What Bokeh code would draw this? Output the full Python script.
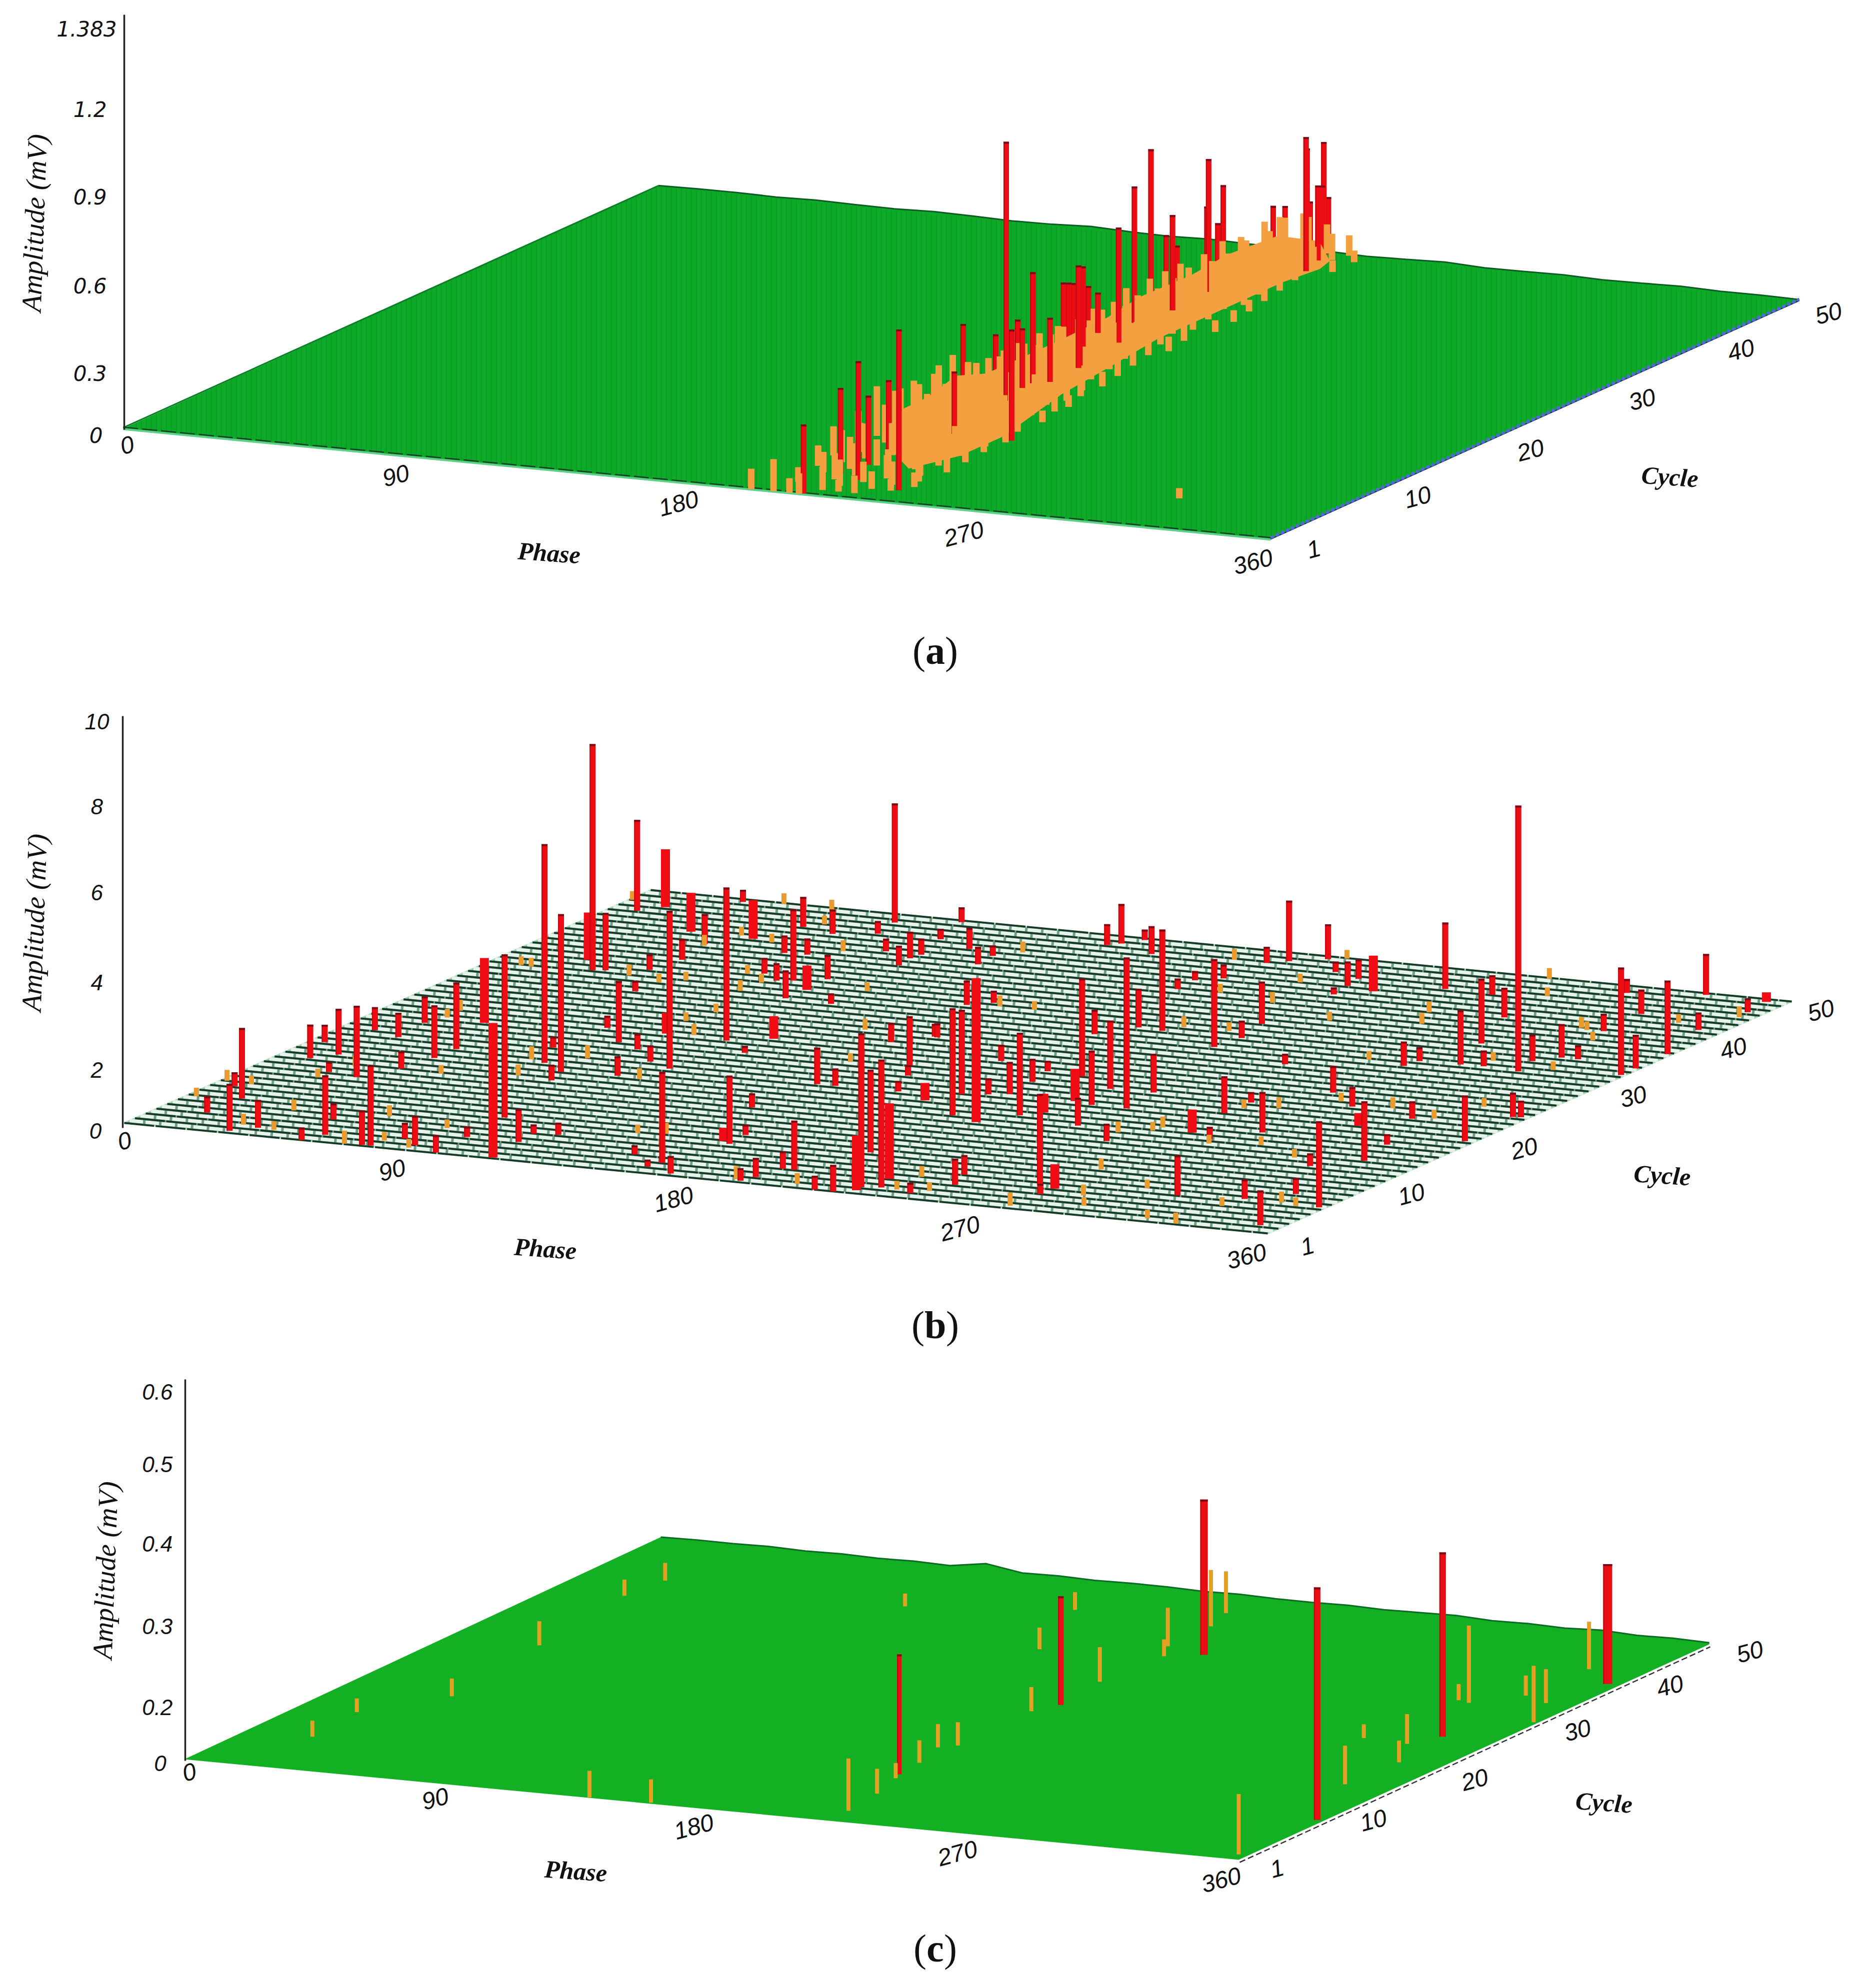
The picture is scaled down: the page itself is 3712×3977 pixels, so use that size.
import numpy as np
from bokeh.plotting import figure
from bokeh.models import Range1d, ColumnDataSource
from bokeh.core.properties import value
from bokeh.embed import file_html
from bokeh.resources import INLINE

# ---------------- panel (a) values
a_red_phase=[213.1,211.1,219.4,213.4,212.6,235.9,217.9,212.5,212.5,212.4,236.6,212.6,216.8,209.2,212.9,212.7,212.6,212.4,212.3,212,212,209.9,208.2,200.9,212.6,212.6,208.8,212.6,211.8,202.4,211.8,211.8,212.5,212.5,215.7,212.6,212.4,212.6,212.9,212.6,211.8]
a_red_cycle=[1.1,5.1,4.3,7,9.1,3.2,13.6,16,19,20,13.4,21,20.2,23.4,23.9,25.2,25.7,26.2,26.7,27.2,27.7,29.2,31.6,35.2,33.3,34.7,36.4,35.7,38.7,41.6,40.2,39.7,44.6,45.7,46.7,47.7,49.3,48.7,47.9,49.1,49.9]
a_red_amp=[.237,.293,.407,.237,.254,.552,.214,.331,.245,.889,.381,.262,.25,.381,.22,.319,.31,.3,.352,.34,.264,.214,.395,.468,.64,.322,.358,.269,.352,.456,.4,.278,.256,.237,.46,.401,.396,.257,.216,.25,.196]
a_red_behind=[0,0,0,0,0,0,0,1,1,0,0,1,0,0,0,1,1,1,0,0,1,0,0,0,1,1,0,1,1,0,1,1,1,1,0,1,1,0,1,1,1]
a_or_cycle=[1,1,1,1,2,2,2,3,3,3,3,4,4,4,4,5,5,5,5,6,6,6,6,7,7,7,7,8,8,8,8,9,9,9,9,10,10,10,10,11,11,11,11,12,12,12,12,13,13,13,13,14,14,14,14,15,15,15,15,16,16,16,16,17,17,17,17,18,18,18,18,19,19,19,19,20,20,20,20,21,21,21,21,22,22,22,22,23,23,23,24,24,24,24,25,25,25,26,26,26,26,27,27,27,28,28,28,29,29,29,30,30,30,31,31,31,32,32,32,33,33,33,34,34,35,35,35,35,36,36,37,37,37,38,38,39,39,39,40,40,40,41,41,41,42,42,43,43,43,44,44,45,45,45,46,46,47,47,47,48,48,49,49,49,50,50,6.4]
a_or_phase=[197,204,209,212,216,221,226,205,218,228,234,213,222,231,238,206,216,226,236,201,211,223,233,205,216,228,238,199,209,220,232,204,214,225,237,200,210,220,232,205,216,227,236,199,210,221,233,203,214,226,236,198,208,219,230,202,213,224,233,197,207,218,229,200,211,222,234,198,205,216,227,199,210,221,231,203,214,225,232,197,207,218,228,200,211,222,229,203,214,226,198,208,219,229,201,212,222,196,206,217,227,199,210,221,203,214,225,198,208,219,201,212,223,205,216,226,199,209,220,202,213,224,206,217,199,209,220,227,203,214,207,218,226,201,211,205,216,224,199,209,219,203,213,222,207,217,202,212,220,206,215,201,210,218,205,214,208,217,223,203,212,207,216,223,211,218,313]
a_or_amp=[.07,.11,.05,.07,.08,.04,.06,.05,.09,.06,.04,.09,.07,.08,.05,.07,.11,.08,.06,.07,.11,.08,.08,.11,.09,.1,.05,.1,.12,.08,.09,.1,.11,.08,.06,.12,.09,.1,.08,.13,.09,.08,.05,.17,.1,.09,.07,.15,.1,.08,.06,.12,.12,.08,.06,.13,.09,.08,.05,.12,.12,.09,.07,.13,.1,.08,.04,.14,.11,.08,.07,.16,.1,.07,.05,.12,.1,.06,.04,.1,.13,.08,.05,.1,.1,.07,.05,.11,.1,.06,.09,.12,.09,.05,.1,.11,.07,.08,.12,.09,.06,.1,.1,.08,.11,.1,.06,.09,.12,.08,.1,.1,.07,.12,.09,.05,.1,.12,.07,.11,.11,.06,.12,.08,.12,.13,.07,.04,.14,.1,.13,.07,.04,.13,.12,.13,.09,.04,.12,.14,.07,.14,.1,.05,.13,.07,.15,.12,.06,.14,.08,.13,.16,.07,.17,.11,.17,.08,.04,.15,.16,.15,.09,.04,.1,.07,.035]
a_band_top_cycle=[9,11,13,16.5,19,21.8,25,28.4,31.6,33,36,40.7,44,47.5,49]
a_band_top_phase=[214,207,202,200,200,200,200,200,200,200,200,200,200,204,212]
a_band_top_amp=[.015,.03,.07,.06,.09,.05,.05,.05,.055,.055,.075,.07,.085,.095,.06]
a_band_low_cycle=[7,10,14,22,27,33,41,44.5,47.3,48.8]
a_band_low_phase=[226,232,232,223,220,216,216,216,218,216]
a_back_amp=[.004,.006,.005,.009,.006,.004,.008,.006,.005,.011,.007,.004,.008,.005,.006,.009,.005,.007,.012,.006,.004,.007,.009,.005,.006,.008,.005,.007,.006,.004]

# ---------------- panel (b) values
b_red_phase=[16.1,31.8,15.3,37.4,7,55.8,10.2,4.6,58.9,52,23.2,15.4,33.3,10.6,76.9,74.2,20.7,39.9,81.6,88.2,19.2,42.2,97.8,42.7,96.8,95.1,113,112,73.5,85.5,119.1,83.1,66.8,31.8,35.2,69.3,80.7,99.9,8.6,55.1,89.6,100.1,46.4,162.3,109.2,170.7,150.2,160.7,48.9,45.5,107.5,168.6,167.6,119.4,30.8,78.2,153.1,85.4,98.1,89.7,71.3,61,78.2,97.8,72.6,113.1,156.4,162.1,200.5,196.9,193,194.8,217.4,223.2,228,210,233.3,222.2,244.1,82.1,84.2,96.6,108.1,106.9,107.7,103.7,151,169.3,174.9,160.1,181.6,99.1,102.9,116.8,128,126.9,150.1,152.9,166.8,214.5,156.9,250.5,206.3,220.3,198.9,234.9,239.5,248,148.8,209.5,199.6,159,206.6,190.4,154.6,227,212,210.7,208.4,272.8,278.3,250.8,247.3,264.4,248.2,237.3,199.7,236.1,239.2,193.4,194,278.6,290.2,299.7,279.3,314.4,353.3,333.9,344.3,331.6,358,342.6,339,294.7,307.8,330.4,357.1,355.4,357.6,265.7,297.4,298.6,311.2,304.3,318.2,278.7,295,330.1,327.8,333.3,338.5,328.7,358.8,358.7,312.4,328.4,358.6,352.5,334,354.9,201.8,206.5,215.4,224.9,236.1,234.8,237.5,263.2]
b_red_cycle=[7.2,1.4,4.2,2.4,9.2,1,15.3,18.3,2.3,5.1,13.2,16.4,12.8,21.2,1.2,1.2,20.4,15,3,2,23.3,17.4,1.1,19.3,4.3,8.3,4.3,6,18.4,15.5,6.2,17.1,21.2,35.2,35.4,25.5,23.2,17.4,46.2,32.3,22.3,20.4,36.2,3.1,19.5,1.4,4.1,2.2,38.5,41.6,25.3,7.5,9.3,23.5,49.5,37.5,14.2,36.5,33.6,36.8,41.4,46.2,41.5,37.6,45.5,33.4,19.3,19.3,4.1,4.1,1.3,2.2,1,1,2.2,8.4,2.5,3.3,2,48.5,46.3,43.4,41.2,42.6,43.4,46.4,27.8,24.1,22.3,29.4,19.4,49.7,46.6,45.2,42.7,44.4,48.2,48.7,47.4,34.3,49.7,20.3,34.5,25.1,32.6,23.4,20.3,16.5,35.5,16.2,20,29.5,20.4,26.4,36.3,17.3,20.8,23.3,25.4,5.6,4,4.2,6.1,14.3,23.5,32.4,44.4,37.2,34.4,43.6,41.8,21.1,16.3,18.4,23.4,6.1,2.3,6.6,8.3,13.4,6.4,15.2,18.4,26.5,24.4,23.3,20.3,25.3,25.4,30.6,32.3,33.4,33.5,37.5,33.6,46.1,42.4,33.3,35.3,36.4,36.4,41.7,34.4,35.8,48.7,45.3,38.8,43.5,49.7,47.4,47.8,48.5,49.5,47.4,45.2,46.6,43.5,46.3]
b_red_amp=[1.62,1.08,.37,.64,.32,.29,.77,.4,1.37,.37,.24,1.05,1.64,.53,1.85,.79,.56,.4,.36,.68,.61,1.21,.4,1.53,.24,3.75,.76,.21,5.03,.36,.28,3.63,.25,5.2,1.32,.28,1.41,.45,2.09,.24,.36,.37,.36,2.09,3.63,.4,.21,.16,.48,.69,3.52,1.57,.24,.16,.28,.36,.32,.4,.64,1.64,.4,.69,.37,.56,.56,.24,.84,.4,1.13,.4,.29,.44,.32,.61,3.54,1.9,2.94,.36,.24,2.74,.29,.29,.45,.61,.37,.24,.44,1.13,.24,.32,.24,.34,.2,.49,.4,.24,.48,.91,.64,2.33,.24,3.47,.89,2.25,.56,1.57,1.25,.64,.56,2.46,1.94,.29,.37,.37,.28,1.9,.74,.53,.24,2.09,.24,.6,.45,.4,.89,2.02,.32,.97,.4,.21,.24,.85,.29,.93,.24,.92,.8,.45,.37,.29,1.98,1.37,.24,.61,.45,.4,1.05,.56,.38,.24,.56,.32,1.25,1.49,.36,.45,.68,6.11,.61,.77,.32,.4,2.47,.77,.32,.56,1.69,.4,.94,.32,.37,1.39,.8,.24,.56,.45,.16,1.53]
b_wide_phase=[34.6,115.4,24.7,87.9,13.8,34.7,165.4,55,118.7,98.7,228.5,230.4,193.7,232.9,219.6,231.5,278.8,281.6,320.6,245.9,353.7]
b_wide_cycle=[24.3,1.2,36.9,25.5,47.3,43.5,7.9,43.3,26.4,35.4,1.6,4.1,18.3,20.7,15.4,18.2,5.2,17.2,21.2,44.7,49.5]
b_wide_amp=[1.49,3.09,1.09,.48,1.33,.89,.3,.89,.52,.56,1.26,1.74,.4,.74,3.31,.43,.56,.53,.29,.82,.22]
b_or_phase=[3.1,1.9,10.3,31.8,42.7,36.5,23.4,69,77.5,64.6,87.9,86.4,26.7,21.9,21.3,53.1,68.1,74,13.8,10.3,82,107.5,146.3,95.9,85.6,56.1,44.3,61.9,88.3,42.7,65,58.8,61.9,85.4,73.9,82.7,115,137,152,191,209.5,237.6,238.5,247.8,150,1,46.4,50,138.7,82.1,191.6,132.6,220,284.2,293.7,272.6,251.7,284.7,331.3,321,317.5,338.4,277.4,207.1,226.6,221.8,217.9,231.8,169.1,158.2,341.9,319.2,335.9,301.9,289.7,280.7,270.2,262.3,306.7,292.3,271,322.6,279.6,290.2,296.4,302.5,277.2,332.1,330.4,320.1,345.5,351.3,352.1,343.2,355.6,323.7]
b_or_cycle=[6.8,10,9.8,2.7,2.3,6,12.1,1.1,2.3,6.6,1.5,5.5,14.6,24.6,26,14.8,18.8,15.8,34.8,34.9,19.9,17.2,8.2,25.7,28,34.2,34.9,35,30,49.8,47,49.5,43,42.7,37.2,35.9,36.2,29.5,23.7,1.5,1.7,5,2.4,2.7,28,48,41.3,43.7,7.8,34.1,47.8,45.5,49.9,49.8,46.8,42,38.9,32.8,39.9,41.9,34.7,34.1,39.9,41.9,41,45,35.3,35.4,35.8,35.8,26.6,24.8,23.7,25.1,22.9,22.3,16.9,16,16.2,15.6,17.6,14.6,9.3,4.5,2.7,6.8,1.5,5,1.2,1.6,6.6,6.2,21.8,44.4,46.4,41.6]
b_or_amp=[.2,.25,.2,.25,.2,.25,.2,.3,.2,.25,.2,.2,.25,.2,.25,.2,.3,.25,.2,.2,.3,.25,.25,.25,.2,.2,.25,.2,.2,.25,.2,.25,.2,.25,.2,.2,.2,.25,.2,.3,.25,.25,.2,.2,.2,.2,.25,.2,.2,.25,.25,.25,.2,.25,.2,.25,.2,.2,.2,.25,.2,.2,.25,.2,.25,.2,.25,.2,.2,.25,.2,.25,.2,.2,.25,.2,.2,.25,.2,.2,.25,.2,.25,.25,.2,.2,.3,.2,.25,.2,.25,.2,.25,.2,.25,.2]

# ---------------- panel (c) values
c_red_phase=[224.3,357.6,341.7,355.8,214.6,211.5]
c_red_cycle=[38.6,9.9,27.8,40.7,26.7,10.9]
c_red_amp=[.193,.289,.229,.149,.135,.149]
c_or_phase=[208.8,205,110.5,160.5,174.5,208.9,213.9,211.4,210.1,210.4,205.9,210.1,212.9,217.1,219.5,356.7,343.5,345.2,336.1,320.3,328.3,323.8,358.4,339.9,350.1,341.5,22.5,20.1,37.3,31,24.9,27.2,138,158.7]
c_or_cycle=[44,46.7,42,44.5,36.6,39.5,37.6,31.7,25,17.3,16.6,13.4,10.1,6.9,3.2,2,17.1,22.2,25.8,26.1,34.6,34.9,32.2,37,36,43.1,7.4,12.7,17.3,28.2,38.8,42.3,1.1,1.2]
c_or_amp=[.07,.052,.016,.022,.027,.048,.021,.043,.03,.029,.029,.028,.019,.031,.065,.075,.048,.027,.037,.017,.096,.02,.07,.025,.042,.059,.02,.017,.022,.03,.02,.022,.033,.029]
c_back_amp=[.002,.003,.002,.004,.002,.003,.002,.004,.003,.002,.003,.002,.002,.003,.002,.003,.003,.002,.003,.002,.009,.002,.003,.002,.003,.002,.003,.002,.002,.001]

# ---------------- tick labels
phase_ticks=["0","90","180","270","360"]
cycle_ticks=["1","10","20","30","40","50"]
a_amp_ticks=["0","0.3","0.6","0.9","1.2","1.383"]
b_amp_ticks=["0","2","4","6","8","10"]
c_amp_ticks=["0","0.2","0.3","0.4","0.5","0.6"]

# ---------------- layout (reference pixels)
K=3712/1464
CORNERS={'a':[(246,857),(2541,1078),(3598,601),(1316,373)],
         'b':[(248,2246),(2535,2467),(3583,2003),(1301,1780)],
         'c':[(368,3519),(2477,3720),(3418,3289),(1321,3076)]}
ZSCALE={'a':583.,'b':87.,'c':1610.}

def proj(k,phase,cycle):
    A,B,C,D=[np.array(q,float) for q in CORNERS[k]]
    u=np.asarray(phase,float)/360; v=(np.asarray(cycle,float)-1)/49
    x=(1-u)*(1-v)*A[0]+u*(1-v)*B[0]+u*v*C[0]+(1-u)*v*D[0]
    y=(1-u)*(1-v)*A[1]+u*(1-v)*B[1]+u*v*C[1]+(1-u)*v*D[1]
    return x,y

p=figure(width=3696,height=3961,x_range=Range1d(0,3696),y_range=Range1d(3961,0),
         output_backend="svg",toolbar_location=None,x_axis_location=None,y_axis_location=None,
         min_border=0,background_fill_color="white",border_fill_color="white")
p.grid.visible=False
p.outline_line_color=None

def plane(k,color,back):
    x,y=proj(k,[0,360,360],[1,1,50])
    x=list(x);y=list(y)
    n=len(back)
    bx,by=proj(k,np.linspace(360,0,n),np.full(n,50.))
    by=by-np.array(back)*ZSCALE[k]
    x+=list(bx);y+=list(by)
    p.patch(x,y,fill_color=color,line_color=None)
    return bx,by

def bars(k,groups):
    X,W,B,T,C=[],[],[],[],[]
    items=[]
    for ph,cy,am,col,w,shade in groups:
        xs,ys=proj(k,ph,cy)
        for x0,y0,a,wd in zip(xs,ys,am,w if isinstance(w,list) else [w]*len(am)):
            items.append((y0,x0,a,col,wd,shade))
    items.sort(key=lambda t:t[0])
    for y0,x0,a,col,wd,shade in items:
        top=y0-a*ZSCALE[k]
        X.append(x0);W.append(wd);B.append(y0);T.append(top);C.append(col)
        if shade:
            X.append(x0-wd/2+1);W.append(2);B.append(y0);T.append(top);C.append(shade)
            X.append(x0);W.append(wd);B.append(top+4);T.append(top);C.append("#7a0a14")
    p.vbar(x=X,width=W,bottom=B,top=T,fill_color=C,line_color=None)

def pick(vals,flag,want):
    return [v for v,f in zip(vals,flag) if f==want]

# ---- panel a
bx,by=plane('a',"#0DAA27",a_back_amp)
A=CORNERS['a']
xs=np.arange(252,3596,10.)
low=np.interp(xs,[A[0][0],A[1][0],A[2][0]],[A[0][1],A[1][1],A[2][1]])
high=np.interp(xs,[A[0][0],A[3][0],A[2][0]],[A[0][1],A[3][1],A[2][1]])
p.multi_line([[x,x] for x in xs],[[l,h] for l,h in zip(low,high)],line_color="#078A22",line_width=1.6,line_alpha=.55)
p.line(bx,by,line_color="#0C5C24",line_width=3)
xl,yl=proj('a',[0,0],[1,50]); p.line(xl,yl-2,line_color="#0A7D25",line_width=3)
xf,yf=proj('a',[0,360],[1,1]); p.line(xf,yf+1,line_color="#5FD08A",line_width=4); p.line(xf,yf-3,line_color="#1B3B2A",line_width=2.5,line_dash="30 8")
xr,yr=proj('a',[360,360],[1,50]); p.line(xr,yr,line_color="#16227A",line_width=2); p.line(xr,yr-3,line_color="#5468D8",line_width=6,line_dash="7 4")
RED_A,SH_A="#EC0C14","#B80A12"
bars('a',[(pick(a_red_phase,a_red_behind,1),pick(a_red_cycle,a_red_behind,1),pick(a_red_amp,a_red_behind,1),RED_A,11,SH_A)])
tx,ty=proj('a',a_band_top_phase,a_band_top_cycle); ty=ty-np.array(a_band_top_amp)*ZSCALE['a']
lx,ly=proj('a',a_band_low_phase,a_band_low_cycle)
p.patch(list(tx)+list(lx)[::-1],list(ty)+list(ly)[::-1],fill_color="#F4A040",line_color=None)
bars('a',[(pick(a_red_phase,a_red_behind,0),pick(a_red_cycle,a_red_behind,0),pick(a_red_amp,a_red_behind,0),RED_A,11,SH_A),(a_or_phase,a_or_cycle,a_or_amp,"#F4A040",13,None)])

# ---- panel b
xp,yp=proj('b',[0,360,360,0],[1,1,50,50])
p.patch(xp,yp,fill_color="#6F9C84",line_color="#A6D6B6",line_width=3)
rows=np.arange(1,50)
x0,y0=proj('b',np.zeros(49),rows+.5); x1,y1=proj('b',np.full(49,360.),rows+.5)
p.multi_line([[a,b] for a,b in zip(x0,x1)],[[a,b] for a,b in zip(y0,y1)],line_color="#E6F2EC",line_width=7,line_dash="27 5")
rows=np.arange(1,51)
x0,y0=proj('b',np.zeros(50),rows); x1,y1=proj('b',np.full(50,360.),rows)
p.multi_line([[a,b] for a,b in zip(x0,x1)],[[a,b] for a,b in zip(y0,y1)],line_color="#173A27",line_width=3.8,line_dash="60 3")
bars('b',[(b_red_phase,b_red_cycle,b_red_amp,"#EE0C14",12,"#C00A12"),
          (b_wide_phase,b_wide_cycle,b_wide_amp,"#F00C14",18,None),
          (b_or_phase,b_or_cycle,b_or_amp,"#E99B30",10,None)])

# ---- panel c
bx,by=plane('c',"#12B022",c_back_amp)
p.line(bx,by,line_color="#0C6A22",line_width=3)
xr,yr=proj('c',[360,360],[1,50])
p.line(xr+1,yr+3,line_color="white",line_width=5)
p.line(xr+2,yr+5,line_color="#333333",line_width=2.5,line_dash="12 6")
bars('c',[(c_red_phase,c_red_cycle,c_red_amp,"#E80E14",[15,13,13,18,11,9],"#B50D12"),(c_or_phase,c_or_cycle,c_or_amp,"#E2A122",8,None)])

# ---- axes lines
p.line([248,248],[29,859],line_color="#222222",line_width=3.5)
p.line([245,245],[1432,2256],line_color="#222222",line_width=3.5)
p.line([370,370],[2759,3522],line_color="#222222",line_width=3.5)

# ---- texts
def T(s,x,y,size,font="Liberation Sans",style="italic",angle=0,align="center",base="middle",k=True):
    if k: x,y=x*K,y*K
    p.text([x],[y],text=[s],text_font=value(font),text_font_style=style,text_font_size=f"{size}px",
           angle=[np.deg2rad(angle)],text_align=align,text_baseline=base,text_color="#111111")

for s,(x,y) in zip(a_amp_ticks,[(205,870),(213,746),(213,571),(213,393),(213,218),(233,57)]):
    T(s,x,y,42,font="DejaVu Sans",align="right",k=False)
for s,(x,y) in zip(b_amp_ticks,[(80,892),(81,844),(81,775),(81,704),(81,636),(86,569)]):
    T(s,x,y,44,align="right")
for s,(x,y) in zip(c_amp_ticks,[(131,1391),(136,1347),(136,1283),(136,1218),(136,1155),(136,1098)]):
    T(s,x,y,44,align="right")
for panel in [[(100,351),(312,375),(535,397),(760,421),(988,443)],
              [(98,900),(309,923),(531,946),(757,969),(983,991)],
              [(149,1398),(343,1419),(547,1441),(755,1462),(963,1483)]]:
    for s,(x,y) in zip(phase_ticks,panel):
        T(s,x,y,48,angle=15)
for panel in [[(1036,433),(1118,392),(1207,355),(1295,315),(1373,276),(1442,247)],
              [(1031,983),(1113,942),(1202,906),(1288,865),(1367,827),(1436,797)],
              [(1007,1474),(1083,1436),(1163,1404),(1244,1365),(1317,1330),(1380,1303)]]:
    for s,(x,y) in zip(cycle_ticks,panel):
        T(s,x,y,48,angle=15)
for (x,y) in [(433,436),(430,985),(454,1476)]:
    T("Phase",x,y,50,font="Liberation Serif",style="bold italic",angle=-4)
for (x,y) in [(1317,376),(1311,927),(1265,1422)]:
    T("Cycle",x,y,50,font="Liberation Serif",style="bold italic",angle=-4)
for (x,y) in [(27,173),(27,725),(83,1236)]:
    T("Amplitude  (mV)",x,y,56,font="Liberation Serif",style="italic",angle=88)
for letter,w,y in [("a",39,1301),("b",43,2650),("c",35,3897)]:
    total=26+w+26; left=1870-total/2
    T("(",left,y,78,font="Liberation Serif",style="normal",align="left",base="alphabetic",k=False)
    T(letter,left+26,y,78,font="Liberation Serif",style="bold",align="left",base="alphabetic",k=False)
    T(")",left+26+w,y,78,font="Liberation Serif",style="normal",align="left",base="alphabetic",k=False)

open("out.html","w").write(file_html(p,INLINE))
